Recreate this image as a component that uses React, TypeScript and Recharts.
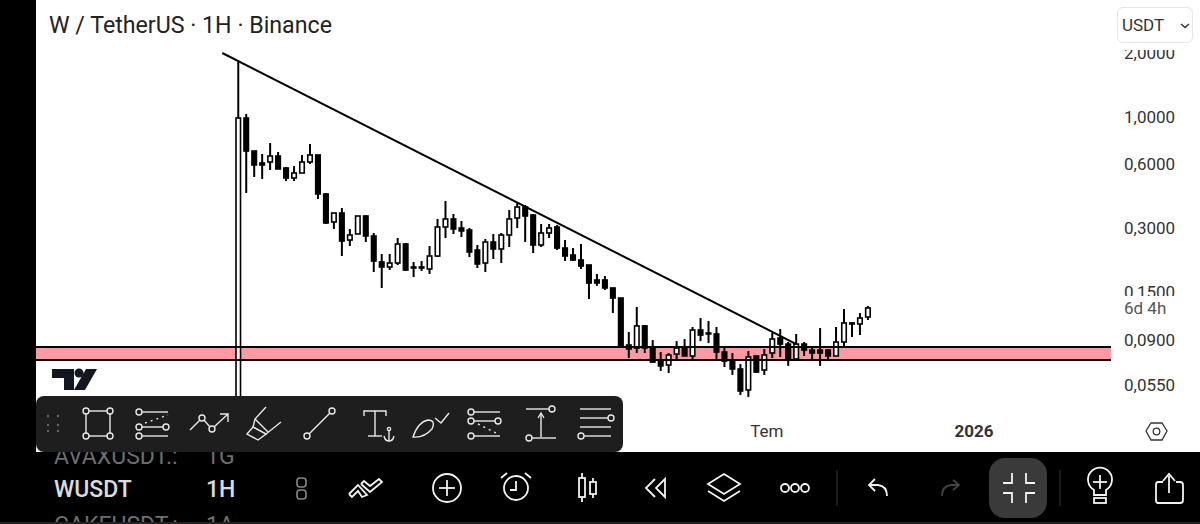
import React from "react";
import { ComposedChart, Bar, XAxis, YAxis, ReferenceArea, ReferenceLine } from "recharts";

const openPrice = [0.04,0.9892,0.6924,0.6082,0.6148,0.6561,0.5763,0.5172,0.5459,0.6148,0.6632,0.435,0.3214,0.3542,0.2645,0.2823,0.3429,0.2763,0.2086,0.1976,0.2063,0.2534,0.1976,0.1976,0.1934,0.2225,0.3045,0.332,0.3012,0.2947,0.2374,0.2063,0.2589,0.2401,0.2793,0.3356,0.378,0.3466,0.2506,0.2853,0.3045,0.2426,0.2249,0.2131,0.2019,0.1717,0.1717,0.1575,0.1413,0.085,0.0823,0.1045,0.0832,0.0723,0.0685,0.0771,0.0823,0.0755,0.1,0.0968,0.0958,0.0788,0.0723,0.0656,0.0523,0.0755,0.0649,0.078,0.0917,0.0859,0.0731,0.0859,0.0805,0.0805,0.0805,0.0755,0.0878,0.1067,0.1067,0.1151];
const highPrice = [1.812,1.033,0.6924,0.6704,0.755,0.685,0.5825,0.5889,0.6632,0.7469,0.6632,0.4398,0.3542,0.3739,0.298,0.3429,0.3466,0.2853,0.2274,0.2274,0.2704,0.2561,0.2086,0.2108,0.2479,0.332,0.4032,0.3504,0.3249,0.3012,0.2506,0.2675,0.2823,0.2853,0.3658,0.3989,0.3862,0.3504,0.3146,0.3146,0.3112,0.2645,0.2426,0.2534,0.2019,0.1832,0.1793,0.1575,0.1413,0.0979,0.1283,0.1055,0.0897,0.0788,0.078,0.0887,0.0907,0.1033,0.1138,0.1102,0.1033,0.0823,0.078,0.0692,0.0796,0.0755,0.0814,0.0968,0.1011,0.0878,0.0958,0.0878,0.0832,0.1022,0.0814,0.1033,0.1255,0.109,0.1201,0.1296];
const lowPrice = [0.04,0.4398,0.5228,0.5117,0.5638,0.5701,0.5006,0.5006,0.5459,0.6017,0.4122,0.3146,0.298,0.2225,0.2479,0.2823,0.2589,0.1872,0.1575,0.1913,0.2019,0.1893,0.1773,0.1893,0.1832,0.2202,0.2704,0.2823,0.2733,0.2202,0.1955,0.1872,0.2154,0.2063,0.2453,0.3012,0.2589,0.2298,0.2453,0.2704,0.2374,0.2108,0.2108,0.1934,0.1398,0.1611,0.1541,0.1201,0.0832,0.0739,0.078,0.078,0.07,0.0642,0.0628,0.0723,0.0755,0.0715,0.0887,0.0868,0.0731,0.067,0.0615,0.0495,0.0485,0.0628,0.0615,0.0739,0.0747,0.0678,0.0723,0.0755,0.0723,0.0678,0.0731,0.0755,0.0832,0.0927,0.0947,0.1114];
const closePrice = [0.9892,0.6924,0.5953,0.5953,0.6561,0.5701,0.5172,0.5459,0.6148,0.6632,0.435,0.318,0.3542,0.2617,0.2793,0.3429,0.2763,0.2108,0.1976,0.2063,0.2534,0.1913,0.1955,0.1955,0.2225,0.3045,0.332,0.298,0.2916,0.2323,0.2041,0.2589,0.2401,0.2793,0.332,0.378,0.3429,0.2506,0.2853,0.3012,0.2426,0.2225,0.2131,0.1998,0.1662,0.1662,0.1575,0.1413,0.0841,0.0814,0.1045,0.0823,0.0707,0.0678,0.0763,0.0823,0.0755,0.1,0.0947,0.0958,0.0788,0.0715,0.0656,0.0517,0.0747,0.0635,0.0763,0.0907,0.0859,0.0723,0.0859,0.0805,0.078,0.078,0.0755,0.0878,0.1079,0.1079,0.1138,0.1269];

const priceTicks = [2, 1, 0.6, 0.3, 0.15, 0.09, 0.055];
const zoneTop = 0.0832;
const zoneBottom = 0.0723;
const trendStart = { slot: 23, price: 1.998 };
const trendEnd = { slot: 95, price: 0.0859 };
const timeTicks = [
  { slot: 91, label: "Tem", bold: false },
  { slot: 117, label: "2026", bold: true },
];
const leadingSlots = 25;
const totalSlots = 135;

const rows = Array.from({ length: totalSlots }, (_, slot) => {
  const k = slot - leadingSlots;
  if (k < 0 || k >= openPrice.length) return { slot };
  const o = openPrice[k], c = closePrice[k];
  return {
    slot,
    up: c >= o,
    wick: [lowPrice[k], highPrice[k]],
    body: [Math.min(o, c), Math.max(o, c)],
  };
});

const Body = (p: any) => {
  if (p.height == null || !p.payload || p.payload.body == null) return null;
  const h = Math.abs(p.height);
  return (
    <rect x={p.x + 0.75} y={p.y} width={p.width - 1.5} height={Math.max(h, 0.6)}
      fill={p.payload.up ? "#ffffff" : "#000000"} stroke="#000000" strokeWidth={1.6} />
  );
};

const Tick = (p: any) => {
  const t = timeTicks.find((d) => d.slot === p.payload.value);
  if (!t) return null;
  return (
    <text x={p.x + 2.5} y={437} textAnchor="middle" fontFamily="Roboto" fontSize={17}
      fontWeight={t.bold ? 700 : 400} fill="#333333">{t.label}</text>
  );
};

const s = { stroke: "#e8e8e8", fill: "none", strokeWidth: 1.4 };
const c = (x: number, y: number, r = 3) => <circle cx={x} cy={y} r={r} {...s} />;
const l = (a: number, b: number, e: number, d: number) => <line x1={a} y1={b} x2={e} y2={d} {...s} />;

const ToolbarIcons = () => (
  <svg width={1200} height={524} style={{ position: "absolute", left: 0, top: 0, pointerEvents: "none" }}>
    <g fill="#666">{[48, 58].map((x) => [416, 425, 431].map((y) => <circle key={x + "-" + y} cx={x} cy={y} r={1.2} />))}</g>
    {/* rectangle */}
    {l(89, 411, 107, 411)}{l(89, 436, 107, 436)}{l(86, 414, 86, 433)}{l(110, 414, 110, 433)}
    {c(86, 411)}{c(110, 411)}{c(86, 436)}{c(110, 436)}
    {/* parallel levels */}
    {c(139, 412)}{l(142, 412, 168, 412)}{c(139, 427)}{l(142, 427, 163, 427)}{c(166, 427)}{c(139, 436)}{l(142, 436, 168, 436)}
    <line x1={145} y1={423} x2={168} y2={415} stroke="#e8e8e8" strokeDasharray="2 4" strokeWidth={1.4} />
    {/* path */}
    <polyline points="190,430 200,420" {...s} />{c(202, 418)}<polyline points="204,420 210,427" {...s} />{c(212, 429)}
    <polyline points="214,427 228,414" {...s} /><polyline points="220,414 228,414 228,422" {...s} />
    {/* highlighter */}
    <polyline points="266,407 255,419 253,427 266,434 281,422" {...s} /><polygon points="253,427 247,434 258,440 266,434" {...s} /><line x1={255} y1={419} x2={268} y2={432} {...s} />
    {/* line */}
    {c(307, 436)}{l(309, 434, 330, 413)}{c(332, 411)}
    {/* text anchor */}
    <polyline points="364,416 364,411 386,411 386,416" {...s} />{l(375, 411, 375, 436)}{l(368, 436, 382, 436)}
    {c(389, 429, 1.6)}{l(389, 431, 389, 441)}<path d="M384 436 Q385 441 389 441 Q393 441 394 436" {...s} />
    {/* brush */}
    <path d="M413 437 Q418 422 428 420 Q436 420 432 429 Q424 438 413 437 Z" {...s} /><polyline points="435,418 441,423 449,413" {...s} />
    {/* fib */}
    {c(471, 412)}{l(474, 412, 500, 412)}{c(471, 421)}{l(474, 421, 495, 421)}{c(498, 421)}{c(471, 436)}{l(474, 436, 500, 436)}
    <line x1={478} y1={424} x2={498} y2={434} stroke="#e8e8e8" strokeDasharray="2 4" strokeWidth={1.4} />
    {/* measure */}
    {l(526, 409, 549, 409)}{c(552, 409)}{l(541, 414, 541, 437)}<polyline points="538,418 541,413 544,418" {...s} />{c(529, 438)}{l(532, 438, 556, 438)}
    {/* lines */}
    {l(580, 409, 611, 409)}{l(580, 418, 608, 418)}{c(611, 418)}{l(580, 427, 611, 427)}{c(581, 436)}{l(584, 436, 611, 436)}

    {/* bottom icons */}
    <g stroke="#888" fill="none" strokeWidth={1.6}><rect x={297} y={478} width={9} height={9} rx={3} /><rect x={297} y={490} width={9} height={9} rx={3} /></g>
    <g stroke="#f2f2f2" fill="none" strokeWidth={1.8}>
      <polyline points="349,494 358,485 367,495 362,497 358,491 352,497 349,494" />
      <polyline points="361,484 370,492 382,482 379,479 370,486 364,481 361,484" />
      <circle cx={447} cy={488} r={14} /><line x1={439} y1={488} x2={455} y2={488} /><line x1={447} y1={480} x2={447} y2={496} />
      <circle cx={516} cy={488} r={12} /><polyline points="516,481 516,490 510,490" /><line x1={501} y1={478} x2={507} y2={473} /><line x1={531} y1={478} x2={525} y2={473} />
      <rect x={579} y={478} width={6} height={19} /><line x1={582} y1={473} x2={582} y2={478} /><line x1={582} y1={497} x2={582} y2={502} />
      <rect x={590} y={482} width={6} height={12} /><line x1={593} y1={478} x2={593} y2={482} /><line x1={593} y1={494} x2={593} y2={498} />
      <polygon points="665,479 665,497 656,488" /><polyline points="655,479 646,488 655,497" />
      <polygon points="724,474 740,484 724,494 708,484" /><polyline points="708,491 724,501 740,491" />
      <circle cx={785} cy={488} r={4} /><circle cx={795} cy={488} r={4} /><circle cx={805} cy={488} r={4} />
      <path d="M870 485 L878 485 Q887 486 887 496" /><polyline points="875,479 869,485 875,491" />
      <path d="M1094 490 A12 12 0 1 1 1106 490 L1106 495 L1094 495 Z" /><line x1={1093} y1={482} x2={1107} y2={482} /><line x1={1100} y1={475} x2={1100} y2={489} /><rect x={1094} y={498} width={12} height={5} />
      <path d="M1163 482 L1158 482 Q1156 482 1156 485 L1156 500 Q1156 503 1158 503 L1180 503 Q1183 503 1183 500 L1183 485 Q1183 482 1180 482 L1176 482" /><line x1={1169} y1={476} x2={1169} y2={493} /><polyline points="1163,481 1169,474 1175,481" />
    </g>
    <g stroke="#444" fill="none" strokeWidth={1.8}>
      <path d="M942 496 Q942 486 951 485 L958 485" /><polyline points="953,480 959,485 953,490" />
    </g>
    <line x1={837} y1={470} x2={837} y2={506} stroke="#333" />
    <line x1={1060} y1={470} x2={1060} y2={506} stroke="#333" />
    <rect x={989} y={458} width={58} height={60} rx={16} fill="#3a3a3a" />
    <g stroke="#f2f2f2" fill="none" strokeWidth={1.8}>
      <polyline points="1003,483 1012,483 1012,473" /><polyline points="1035,483 1026,483 1026,473" />
      <polyline points="1003,493 1012,493 1012,503" /><polyline points="1035,493 1026,493 1026,503" />
    </g>
    {/* settings hexagon */}
    <polygon points="1146,431 1151,423 1162,423 1167,431 1162,440 1151,440" fill="none" stroke="#333" strokeWidth={1.3} />
    <circle cx={1156.5} cy={431.5} r={3.3} fill="none" stroke="#333" strokeWidth={1.3} />
    {/* logo */}
    <g fill="#131722">
      <path d="M52 369 H74 V390 H64 V378 H52 Z" /><circle cx={79} cy={373} r={4.5} />
      <path d="M86 369 H97 L85 390 H74 Z" />
    </g>
  </svg>
);

const abs = (left: number, top: number, extra: any = {}) => ({ position: "absolute", left, top, fontFamily: "Roboto", whiteSpace: "nowrap", lineHeight: 1, ...extra });

const PriceTick = (p: any) => (
  <text x={p.x} y={p.y + 6} fontFamily="Roboto" fontSize={17} fill="#333333">
    {p.payload.value.toFixed(4).replace(".", ",")}
  </text>
);

export default function App() {
  return (
    <div style={{ position: "absolute", left: 0, top: 0, width: 1200, height: 524, overflow: "hidden", background: "#fff" }}>
      <div style={{ position: "absolute", left: 0, top: 0 }}>
        <ComposedChart width={1200} height={440} data={rows} barGap={0}
          margin={{ top: 0, right: 0, bottom: 0, left: 35 }}>
          <XAxis xAxisId="time" dataKey="slot" type="category" height={25} axisLine={false} tickLine={false}
            interval={0} ticks={timeTicks.map((t) => t.slot)} tick={<Tick />} />
          <XAxis xAxisId="body" dataKey="slot" type="category" hide />
          <YAxis yAxisId="p" orientation="right" scale="log" domain={[0.03989, 3.543]} allowDataOverflow
            width={89} ticks={priceTicks} interval={0} axisLine={false} tickLine={false} tickSize={0} tickMargin={13}
            tick={<PriceTick />} />
          <ReferenceArea xAxisId="time" yAxisId="p" y1={zoneBottom} y2={zoneTop} fill="#ff9aa2" fillOpacity={1} stroke="none" />
          <ReferenceLine xAxisId="time" yAxisId="p" y={zoneTop} stroke="#000" strokeWidth={2} />
          <ReferenceLine xAxisId="time" yAxisId="p" y={zoneBottom} stroke="#000" strokeWidth={2} />
          <Bar xAxisId="time" yAxisId="p" dataKey="wick" barSize={2} fill="#000" isAnimationActive={false} />
          <Bar xAxisId="body" yAxisId="p" dataKey="body" barSize={6} shape={<Body />} isAnimationActive={false} />
          <ReferenceLine xAxisId="time" yAxisId="p" stroke="#000" strokeWidth={2}
            segment={[{ x: trendStart.slot, y: trendStart.price }, { x: trendEnd.slot, y: trendEnd.price }]} />
        </ComposedChart>
      </div>

      <div style={abs(49, 14, { fontSize: 23.2, color: "#222" })}>W / TetherUS · 1H · Binance</div>

      {/* clip of the price scale */}
      <div style={{ position: "absolute", left: 1112, top: 0, width: 88, height: 50, background: "#fff" }} />
      <div style={{ ...abs(1117, 7), width: 76, height: 36, boxSizing: "border-box", border: "1px solid #e6e6e6", borderRadius: 6, background: "#fff", fontSize: 17, color: "#333", padding: "9px 0 0 4px" }}>
        USDT
        <svg width={10} height={6} style={{ position: "absolute", left: 62, top: 15 }}><polyline points="1,1 5,4.5 9,1" fill="none" stroke="#333" strokeWidth={1.6} /></svg>
      </div>
      <div style={{ ...abs(1124, 296), width: 70, height: 21, background: "#fff", fontSize: 17, color: "#555", paddingTop: 4 }}>6d 4h</div>

      {/* side and bottom panels */}
      <div style={{ position: "absolute", left: 0, top: 0, width: 36, height: 524, background: "#000" }} />
      <div style={{ position: "absolute", left: 0, top: 452, width: 1200, height: 72, background: "#000", overflow: "hidden" }}>
        <div style={abs(54, -7, { fontSize: 23, color: "#6e6e6e" })}>AVAXUSDT.:</div>
        <div style={abs(206, -7, { fontSize: 23, color: "#6e6e6e" })}>1G</div>
        <div style={abs(54, 26, { fontSize: 23, fontWeight: 500, color: "#dcdcdc" })}>WUSDT</div>
        <div style={abs(206, 26, { fontSize: 23, fontWeight: 500, color: "#dcdcdc" })}>1H</div>
        <div style={abs(54, 62, { fontSize: 23, color: "#6e6e6e" })}>CAKEUSDT.:</div>
        <div style={abs(206, 62, { fontSize: 23, color: "#6e6e6e" })}>1A</div>
        <div style={{ position: "absolute", left: 0, top: 70, width: 1200, height: 2, background: "#222" }} />
      </div>
      <div style={{ position: "absolute", left: 36, top: 396, width: 587, height: 56, background: "#1e1e1e", borderRadius: 8 }} />
      <ToolbarIcons />
    </div>
  );
}
